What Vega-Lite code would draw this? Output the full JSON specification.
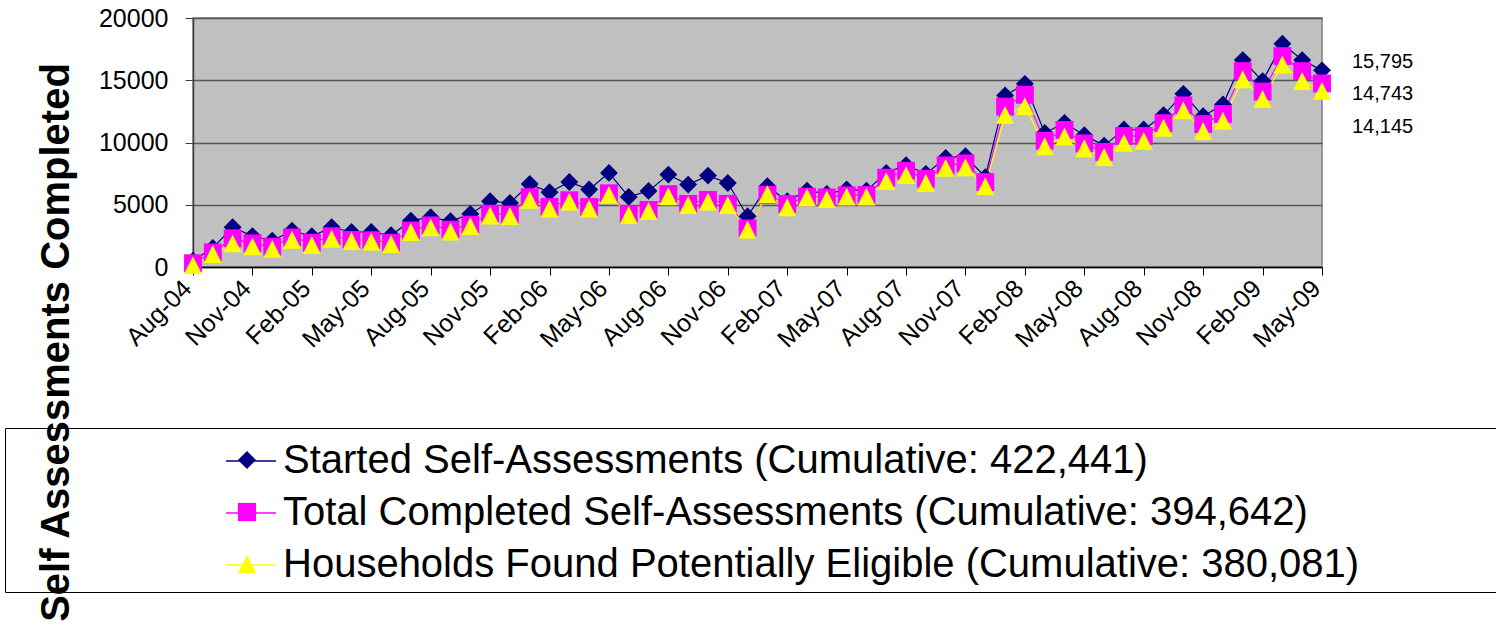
{
 "$schema": "https://vega.github.io/schema/vega-lite/v6.json",
 "width": 1129,
 "height": 249,
 "autosize": {"type": "none"},
 "padding": {"left": 193, "top": 18, "right": 174, "bottom": 359},
 "background": "white",
 "config": {"view": {"fill": "#C0C0C0", "stroke": "#808080", "strokeWidth": 1.5}, "font": "Liberation Sans"},
 "data": {"values": [
  {"month":"Aug-04","series":"started","value":500},{"month":"Sep-04","series":"started","value":1530},{"month":"Oct-04","series":"started","value":3200},{"month":"Nov-04","series":"started","value":2480},{"month":"Dec-04","series":"started","value":2110},{"month":"Jan-05","series":"started","value":2920},{"month":"Feb-05","series":"started","value":2470},{"month":"Mar-05","series":"started","value":3190},{"month":"Apr-05","series":"started","value":2810},{"month":"May-05","series":"started","value":2810},{"month":"Jun-05","series":"started","value":2550},{"month":"Jul-05","series":"started","value":3720},{"month":"Aug-05","series":"started","value":4000},{"month":"Sep-05","series":"started","value":3670},{"month":"Oct-05","series":"started","value":4260},{"month":"Nov-05","series":"started","value":5280},{"month":"Dec-05","series":"started","value":5150},{"month":"Jan-06","series":"started","value":6670},{"month":"Feb-06","series":"started","value":6000},{"month":"Mar-06","series":"started","value":6830},{"month":"Apr-06","series":"started","value":6220},{"month":"May-06","series":"started","value":7560},{"month":"Jun-06","series":"started","value":5630},{"month":"Jul-06","series":"started","value":6110},{"month":"Aug-06","series":"started","value":7420},{"month":"Sep-06","series":"started","value":6620},{"month":"Oct-06","series":"started","value":7340},{"month":"Nov-06","series":"started","value":6750},{"month":"Dec-06","series":"started","value":4080},{"month":"Jan-07","series":"started","value":6490},{"month":"Feb-07","series":"started","value":5280},{"month":"Mar-07","series":"started","value":6130},{"month":"Apr-07","series":"started","value":5870},{"month":"May-07","series":"started","value":6220},{"month":"Jun-07","series":"started","value":6130},{"month":"Jul-07","series":"started","value":7560},{"month":"Aug-07","series":"started","value":8180},{"month":"Sep-07","series":"started","value":7480},{"month":"Oct-07","series":"started","value":8760},{"month":"Nov-07","series":"started","value":8900},{"month":"Dec-07","series":"started","value":7210},{"month":"Jan-08","series":"started","value":13770},{"month":"Feb-08","series":"started","value":14710},{"month":"Mar-08","series":"started","value":10770},{"month":"Apr-08","series":"started","value":11580},{"month":"May-08","series":"started","value":10590},{"month":"Jun-08","series":"started","value":9750},{"month":"Jul-08","series":"started","value":11040},{"month":"Aug-08","series":"started","value":11040},{"month":"Sep-08","series":"started","value":12200},{"month":"Oct-08","series":"started","value":13910},{"month":"Nov-08","series":"started","value":12110},{"month":"Dec-08","series":"started","value":13050},{"month":"Jan-09","series":"started","value":16620},{"month":"Feb-09","series":"started","value":14930},{"month":"Mar-09","series":"started","value":17930},{"month":"Apr-09","series":"started","value":16620},{"month":"May-09","series":"started","value":15795},
  {"month":"Aug-04","series":"completed","value":300},{"month":"Sep-04","series":"completed","value":1170},{"month":"Oct-04","series":"completed","value":2300},{"month":"Nov-04","series":"completed","value":1900},{"month":"Dec-04","series":"completed","value":1630},{"month":"Jan-05","series":"completed","value":2370},{"month":"Feb-05","series":"completed","value":1950},{"month":"Mar-05","series":"completed","value":2470},{"month":"Apr-05","series":"completed","value":2170},{"month":"May-05","series":"completed","value":2150},{"month":"Jun-05","series":"completed","value":1950},{"month":"Jul-05","series":"completed","value":2930},{"month":"Aug-05","series":"completed","value":3340},{"month":"Sep-05","series":"completed","value":3000},{"month":"Oct-05","series":"completed","value":3400},{"month":"Nov-05","series":"completed","value":4280},{"month":"Dec-05","series":"completed","value":4200},{"month":"Jan-06","series":"completed","value":5610},{"month":"Feb-06","series":"completed","value":4820},{"month":"Mar-06","series":"completed","value":5360},{"month":"Apr-06","series":"completed","value":4820},{"month":"May-06","series":"completed","value":5920},{"month":"Jun-06","series":"completed","value":4240},{"month":"Jul-06","series":"completed","value":4580},{"month":"Aug-06","series":"completed","value":5850},{"month":"Sep-06","series":"completed","value":5070},{"month":"Oct-06","series":"completed","value":5390},{"month":"Nov-06","series":"completed","value":5070},{"month":"Dec-06","series":"completed","value":3100},{"month":"Jan-07","series":"completed","value":5800},{"month":"Feb-07","series":"completed","value":5060},{"month":"Mar-07","series":"completed","value":5650},{"month":"Apr-07","series":"completed","value":5590},{"month":"May-07","series":"completed","value":5750},{"month":"Jun-07","series":"completed","value":5790},{"month":"Jul-07","series":"completed","value":7170},{"month":"Aug-07","series":"completed","value":7730},{"month":"Sep-07","series":"completed","value":7080},{"month":"Oct-07","series":"completed","value":8160},{"month":"Nov-07","series":"completed","value":8320},{"month":"Dec-07","series":"completed","value":6820},{"month":"Jan-08","series":"completed","value":12880},{"month":"Feb-08","series":"completed","value":13830},{"month":"Mar-08","series":"completed","value":10140},{"month":"Apr-08","series":"completed","value":11010},{"month":"May-08","series":"completed","value":9930},{"month":"Jun-08","series":"completed","value":9240},{"month":"Jul-08","series":"completed","value":10520},{"month":"Aug-08","series":"completed","value":10520},{"month":"Sep-08","series":"completed","value":11550},{"month":"Oct-08","series":"completed","value":12980},{"month":"Nov-08","series":"completed","value":11480},{"month":"Dec-08","series":"completed","value":12290},{"month":"Jan-09","series":"completed","value":15730},{"month":"Feb-09","series":"completed","value":14090},{"month":"Mar-09","series":"completed","value":16940},{"month":"Apr-09","series":"completed","value":15730},{"month":"May-09","series":"completed","value":14743},
  {"month":"Aug-04","series":"eligible","value":150},{"month":"Sep-04","series":"eligible","value":1040},{"month":"Oct-04","series":"eligible","value":1900},{"month":"Nov-04","series":"eligible","value":1660},{"month":"Dec-04","series":"eligible","value":1460},{"month":"Jan-05","series":"eligible","value":2190},{"month":"Feb-05","series":"eligible","value":1770},{"month":"Mar-05","series":"eligible","value":2270},{"month":"Apr-05","series":"eligible","value":2090},{"month":"May-05","series":"eligible","value":2050},{"month":"Jun-05","series":"eligible","value":1850},{"month":"Jul-05","series":"eligible","value":2810},{"month":"Aug-05","series":"eligible","value":3180},{"month":"Sep-05","series":"eligible","value":2850},{"month":"Oct-05","series":"eligible","value":3280},{"month":"Nov-05","series":"eligible","value":4140},{"month":"Dec-05","series":"eligible","value":4100},{"month":"Jan-06","series":"eligible","value":5390},{"month":"Feb-06","series":"eligible","value":4690},{"month":"Mar-06","series":"eligible","value":5250},{"month":"Apr-06","series":"eligible","value":4700},{"month":"May-06","series":"eligible","value":5790},{"month":"Jun-06","series":"eligible","value":4180},{"month":"Jul-06","series":"eligible","value":4500},{"month":"Aug-06","series":"eligible","value":5680},{"month":"Sep-06","series":"eligible","value":4980},{"month":"Oct-06","series":"eligible","value":5250},{"month":"Nov-06","series":"eligible","value":4980},{"month":"Dec-06","series":"eligible","value":3000},{"month":"Jan-07","series":"eligible","value":5850},{"month":"Feb-07","series":"eligible","value":4800},{"month":"Mar-07","series":"eligible","value":5590},{"month":"Apr-07","series":"eligible","value":5450},{"month":"May-07","series":"eligible","value":5650},{"month":"Jun-07","series":"eligible","value":5650},{"month":"Jul-07","series":"eligible","value":6900},{"month":"Aug-07","series":"eligible","value":7380},{"month":"Sep-07","series":"eligible","value":6750},{"month":"Oct-07","series":"eligible","value":7960},{"month":"Nov-07","series":"eligible","value":8010},{"month":"Dec-07","series":"eligible","value":6500},{"month":"Jan-08","series":"eligible","value":12220},{"month":"Feb-08","series":"eligible","value":12920},{"month":"Mar-08","series":"eligible","value":9700},{"month":"Apr-08","series":"eligible","value":10480},{"month":"May-08","series":"eligible","value":9540},{"month":"Jun-08","series":"eligible","value":8840},{"month":"Jul-08","series":"eligible","value":9970},{"month":"Aug-08","series":"eligible","value":10130},{"month":"Sep-08","series":"eligible","value":11190},{"month":"Oct-08","series":"eligible","value":12580},{"month":"Nov-08","series":"eligible","value":10920},{"month":"Dec-08","series":"eligible","value":11750},{"month":"Jan-09","series":"eligible","value":15080},{"month":"Feb-09","series":"eligible","value":13490},{"month":"Mar-09","series":"eligible","value":16260},{"month":"Apr-09","series":"eligible","value":14940},{"month":"May-09","series":"eligible","value":14145}
 ]},
 "encoding": {
  "x": {"field": "month", "type": "ordinal", "sort": null, "scale": {"type": "point", "padding": 0},
   "axis": {"values": ["Aug-04","Nov-04","Feb-05","May-05","Aug-05","Nov-05","Feb-06","May-06","Aug-06","Nov-06","Feb-07","May-07","Aug-07","Nov-07","Feb-08","May-08","Aug-08","Nov-08","Feb-09","May-09"],
    "title": null, "labelAngle": -45, "labelAlign": "right", "labelBaseline": "middle", "labelFont": "Liberation Sans", "labelFontSize": 25, "labelColor": "black", "labelPadding": 9, "labelOffset": -6, "labelOverlap": false, "tickSize": 8, "tickColor": "black", "domainColor": "black", "domainWidth": 1.5, "grid": false}},
  "y": {"field": "value", "type": "quantitative", "scale": {"domain": [0, 20000], "nice": false},
   "axis": {"values": [0, 5000, 10000, 15000, 20000], "format": "d", "labelFont": "Liberation Sans", "labelFontSize": 25, "labelColor": "black", "labelPadding": 17, "tickSize": 8, "tickColor": "#404040", "domainColor": "#404040", "domainWidth": 1.5, "grid": true, "gridColor": "#555555", "gridWidth": 1.5,
    "title": "Self Assessments Completed", "titleFont": "Liberation Sans", "titleFontSize": 40, "titleFontWeight": "bold", "titleColor": "black", "titleX": -137, "titleY": 324, "titleAngle": -90, "titleAlign": "center", "titleBaseline": "middle"}}
 },
 "layer": [
  {"mark": {"type": "line", "strokeWidth": 1.2},
   "encoding": {"color": {"field": "series", "type": "nominal",
    "scale": {"domain": ["started", "completed", "eligible"], "range": ["#000080", "#FF00FF", "#FFFF00"]},
    "legend": {"orient": "none", "legendX": -188, "legendY": 410, "title": " ", "titleOrient": "right", "titleFontSize": 1, "titlePadding": 200, "padding": 7, "strokeColor": "black", "symbolType": "stroke", "symbolSize": 2500, "symbolStrokeWidth": 1.5, "symbolOffset": 213, "labelFont": "Liberation Sans", "labelFontSize": 40, "labelColor": "black", "labelOffset": 6, "rowPadding": 6, "labelLimit": 2000,
     "labelExpr": "datum.value === 'started' ? 'Started Self-Assessments (Cumulative: 422,441)' : datum.value === 'completed' ? 'Total Completed Self-Assessments (Cumulative: 394,642)' : 'Households Found Potentially Eligible (Cumulative: 380,081)'"}}}},
  {"mark": {"type": "point", "filled": true, "opacity": 1, "size": 320, "strokeWidth": 0},
   "encoding": {
    "color": {"field": "series", "type": "nominal",
     "scale": {"domain": ["started", "completed", "eligible"], "range": ["#000080", "#FF00FF", "#FFFF00"]},
     "legend": {"orient": "none", "legendX": -182, "legendY": 415, "title": " ", "titleOrient": "left", "titleFontSize": 1, "titlePadding": 209, "padding": 7, "symbolSize": 330, "symbolStrokeWidth": 0, "labelFont": "Liberation Sans", "labelFontSize": 40, "labelOffset": 8, "rowPadding": 12, "labelLimit": 2000, "labelExpr": "''"}},
    "shape": {"field": "series", "type": "nominal",
     "scale": {"domain": ["started", "completed", "eligible"], "range": ["diamond", "square", "M0,-1L1,1L-1,1Z"]},
     "legend": {"orient": "none", "legendX": -182, "legendY": 415, "title": " ", "titleOrient": "left", "titleFontSize": 1, "titlePadding": 209, "padding": 7, "symbolSize": 330, "symbolStrokeWidth": 0, "labelFont": "Liberation Sans", "labelFontSize": 40, "labelOffset": 8, "rowPadding": 12, "labelLimit": 2000, "labelExpr": "''"}}}},
  {"transform": [{"filter": "datum.month === 'May-09' && datum.series === 'started'"}],
   "mark": {"type": "text", "dx": 30, "dy": -8, "align": "left", "baseline": "middle", "font": "Liberation Sans", "fontSize": 20, "color": "black"},
   "encoding": {"text": {"field": "value", "type": "quantitative", "format": ","}}},
  {"transform": [{"filter": "datum.month === 'May-09' && datum.series === 'completed'"}],
   "mark": {"type": "text", "dx": 30, "dy": 11, "align": "left", "baseline": "middle", "font": "Liberation Sans", "fontSize": 20, "color": "black"},
   "encoding": {"text": {"field": "value", "type": "quantitative", "format": ","}}},
  {"transform": [{"filter": "datum.month === 'May-09' && datum.series === 'eligible'"}],
   "mark": {"type": "text", "dx": 30, "dy": 36, "align": "left", "baseline": "middle", "font": "Liberation Sans", "fontSize": 20, "color": "black"},
   "encoding": {"text": {"field": "value", "type": "quantitative", "format": ","}}}
 ],
 "resolve": {"legend": {"color": "independent", "shape": "independent"}}
}
